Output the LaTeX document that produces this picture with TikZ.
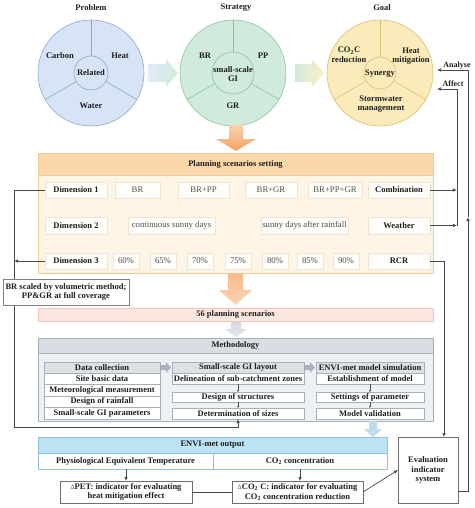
\documentclass[tikz,border=0pt]{standalone}
\usepackage{fontspec}
\setmainfont{Liberation Serif}
\usetikzlibrary{arrows.meta}
\definecolor{probfill}{HTML}{D6E4F6}
\definecolor{probdraw}{HTML}{8DA8CC}
\definecolor{stratfill}{HTML}{D0EADB}
\definecolor{stratdraw}{HTML}{8EC3A2}
\definecolor{goalfill}{HTML}{FCEBBA}
\definecolor{goaldraw}{HTML}{D8BD78}
\definecolor{planhead}{HTML}{FBD7AA}
\definecolor{planbody}{HTML}{FEF5E6}
\definecolor{planline}{HTML}{F1CB98}
\definecolor{cellfill}{HTML}{FFFDF9}
\definecolor{cellline}{HTML}{F1E3CF}
\definecolor{scenfill}{HTML}{FCE7E0}
\definecolor{scenline}{HTML}{F1C6B8}
\definecolor{methead}{HTML}{D8DEE4}
\definecolor{metbody}{HTML}{EEF1F4}
\definecolor{metline}{HTML}{A7B0B9}
\definecolor{colhead}{HTML}{DDE1E5}
\definecolor{envihead}{HTML}{BCE3F4}
\definecolor{enviline}{HTML}{8FC3DA}
\definecolor{conn}{HTML}{4A4A4A}
\definecolor{txt}{HTML}{1E1E1E}
\definecolor{celltxt}{HTML}{505050}
\definecolor{orangeA}{HTML}{F9D2AC}
\definecolor{orangeB}{HTML}{F5A363}
\definecolor{orangeC}{HTML}{F8BB88}
\definecolor{orangeD}{HTML}{FAD3B6}
\definecolor{grayarr}{HTML}{D2D9E0}
\definecolor{midgray}{HTML}{A9B1BA}
\definecolor{bluearr}{HTML}{BEDDEB}

\newcommand{\bx}[7]{\node[#6, minimum width={(#4-#2)*1pt}, minimum height={(#5-#3)*1pt}] (#1) at ({(#2+#4)/2},{(#3+#5)/2}) {#7};}
\newcommand{\dlt}{{\fontsize{6.5}{6}\selectfont\mdseries\color{celltxt}Δ}}

\begin{document}
\begin{tikzpicture}[x=1pt,y=-1pt,
  every node/.style={inner sep=0pt, outer sep=0pt, text=txt, font=\fontsize{8.5}{9.6}\selectfont\bfseries, align=center},
  box/.style={rectangle, draw, line width=0.5pt},
  cell/.style={box, draw=cellline, fill=cellfill, font=\fontsize{8.7}{9.6}\selectfont, text=celltxt},
  dimcell/.style={box, draw=cellline, fill=cellfill},
  mrow/.style={box, draw=metline, fill=white},
  mhead/.style={box, draw=metline, fill=colhead},
  bigc/.style={circle, minimum size=106pt, line width=0.6pt},
  conn/.style={draw=conn, line width=0.7pt},
  arr/.style={conn, -{Latex[length=4pt,width=3.5pt]}},
  tinyarr/.style={draw=conn, line width=0.4pt, -{Latex[length=2pt,width=2pt]}},
  whitebox/.style={box, draw=conn!80, fill=white}
]
\useasboundingbox (0,0) rectangle (474,508);

% titles
\node (tprob) at (91,8) {Problem};
\node (tstrat) at (236,8) {Strategy};
\node (tgoal) at (382,8) {Goal};

% problem circle
\node[bigc, fill=probfill, draw=probdraw] (prob) at (91,73) {};
\draw[probdraw, line width=0.6pt] (prob.center) circle (17);
\foreach \a in {-90,30,150} \draw[probdraw, line width=0.6pt] (prob.center) ++(\a:17) -- ++(\a:36);
\node (carbon) at (60,56) {Carbon};
\node (heat) at (120,56) {Heat};
\node (related) at (91,73) {Related};
\node (water) at (91,106) {Water};

% strategy circle
\node[bigc, fill=stratfill, draw=stratdraw] (strat) at (233,73) {};
\draw[stratdraw, line width=0.6pt] (strat.center) circle (21);
\foreach \a in {-90,30,150} \draw[stratdraw, line width=0.6pt] (strat.center) ++(\a:21) -- ++(\a:32);
\node (sbr) at (205,56) {BR};
\node (spp) at (263,56) {PP};
\node (sgi) at (233,74) {small-scale\\GI};
\node (sgr) at (233,106) {GR};

% goal circle
\node[bigc, fill=goalfill, draw=goaldraw] (goal) at (380,73) {};
\draw[goaldraw, line width=0.6pt] (goal.center) circle (16);
\foreach \a in {-90,30,150} \draw[goaldraw, line width=0.6pt] (goal.center) ++(\a:16) -- ++(\a:37);
\node (gco) at (349,55) {CO\textsubscript{2}C\\reduction};
\node (gheat) at (411,56) {Heat\\mitigation};
\node (gsyn) at (380,74) {Synergy};
\node (gstorm) at (381,104) {Stormwater\\management};

% block arrows between circles
\path[left color=probfill!70!white, right color=stratfill] (148,64) -- (166,64) -- (166,59) -- (178,73) -- (166,87) -- (166,82) -- (148,82) -- cycle;
\path[left color=stratfill, right color=goalfill!80!white] (295,64) -- (312,64) -- (312,59) -- (324,73) -- (312,87) -- (312,82) -- (295,82) -- cycle;
% orange arrow to planning
\path[top color=orangeA, bottom color=orangeB] (229,125) -- (243,125) -- (243,139) -- (256,139) -- (236,151) -- (216,139) -- (229,139) -- cycle;

% planning block
\bx{plan}{38}{153}{433}{273}{box, draw=planline, fill=planbody}{}
\bx{planh}{38}{153}{433}{175}{box, draw=planline, fill=planhead}{Planning scenarios setting}
\bx{dimA}{45}{182}{107}{198}{dimcell}{Dimension 1}
\bx{br}{115}{182}{160}{198}{cell}{BR}
\bx{brpp}{178}{182}{229}{198}{cell}{BR+PP}
\bx{brgr}{245}{182}{297}{198}{cell}{BR+GR}
\bx{brppgr}{308}{182}{362}{198}{cell}{BR+PP+GR}
\bx{comb}{368}{182}{430}{198}{dimcell}{Combination}
\bx{dimB}{45}{217}{107}{234}{dimcell}{Dimension 2}
\bx{cont}{128}{217}{215}{234}{cell}{continuous sunny days}
\bx{after}{261}{217}{348}{234}{cell}{sunny days after rainfall}
\bx{weather}{368}{217}{430}{234}{dimcell}{Weather}
\bx{dimC}{45}{253}{107}{269}{dimcell}{Dimension 3}
\bx{pA}{113}{253}{139}{269}{cell}{60\%}
\bx{pB}{150}{253}{176}{269}{cell}{65\%}
\bx{pC}{187}{253}{213}{269}{cell}{70\%}
\bx{pD}{225}{253}{251}{269}{cell}{75\%}
\bx{pE}{262}{253}{288}{269}{cell}{80\%}
\bx{pF}{297}{253}{323}{269}{cell}{85\%}
\bx{pG}{333}{253}{359}{269}{cell}{90\%}
\bx{rcr}{368}{253}{430}{269}{dimcell}{RCR}

% orange arrow to scenarios
\path[top color=orangeC, bottom color=orangeD] (228,273) -- (243,273) -- (243,290) -- (252,290) -- (235.5,305) -- (219,290) -- (228,290) -- cycle;
\bx{scen}{38}{308}{433}{321}{box, draw=scenline, fill=scenfill}{56 planning scenarios}
\path[top color=grayarr, bottom color=grayarr!60!white] (231,322) -- (241,322) -- (241,329) -- (247,329) -- (236,337) -- (225,329) -- (231,329) -- cycle;

% methodology
\bx{met}{38}{338}{433}{421}{box, draw=metline, fill=metbody}{}
\bx{meth}{38}{338}{433}{353}{box, draw=metline, fill=methead}{Methodology}
\bx{dc}{44}{362}{160}{373}{mhead}{Data collection}
\bx{sbd}{44}{373}{160}{384}{mrow}{Site basic data}
\bx{mm}{44}{384}{160}{396}{mrow}{Meteorological measurement}
\bx{dr}{44}{396}{160}{407}{mrow}{Design of rainfall}
\bx{gip}{44}{407}{160}{419}{mrow}{Small-scale GI parameters}
\bx{gil}{172}{362}{304}{373}{mhead}{Small-scale GI layout}
\bx{del}{172}{373}{304}{384}{mrow}{Delineation of sub-catchment zones}
\bx{dos}{172}{392}{304}{402}{mrow}{Design of structures}
\bx{det}{172}{408}{304}{419}{mrow}{Determination of sizes}
\bx{ems}{316}{362}{424}{373}{mhead}{ENVI-met model simulation}
\bx{est}{316}{373}{424}{384}{mrow}{Establishment of model}
\bx{sop}{316}{392}{424}{402}{mrow}{Settings of parameter}
\bx{mv}{316}{408}{424}{419}{mrow}{Model validation}
\path[fill=midgray] (161,365) -- (166,365) -- (166,362) -- (171,367.5) -- (166,373) -- (166,370) -- (161,370) -- cycle;
\path[fill=midgray] (305,365) -- (310,365) -- (310,362) -- (315,367.5) -- (310,373) -- (310,370) -- (305,370) -- cycle;
\draw[tinyarr] (del.south) -- (dos.north);
\draw[tinyarr] (dos.south) -- (det.north);
\draw[tinyarr] (est.south) -- (sop.north);
\draw[tinyarr] (sop.south) -- (mv.north);

% blue arrow to output
\path[fill=bluearr] (369,421) -- (377,421) -- (377,429) -- (382,429) -- (373,437) -- (364,429) -- (369,429) -- cycle;

% ENVI-met output
\bx{envi}{38}{437}{387}{469}{box, draw=enviline, fill=white}{}
\bx{envih}{38}{437}{387}{453}{box, draw=enviline, fill=envihead}{ENVI-met output}
\bx{pet}{38}{453}{213}{469}{box, draw=enviline, fill=white}{Physiological Equivalent Temperature}
\bx{co}{213}{453}{387}{469}{box, draw=enviline, fill=white}{CO\textsubscript{2}\ concentration}
\bx{petbox}{60}{481}{192}{503}{whitebox}{\dlt PET: indicator for evaluating\\heat mitigation effect}
\bx{cobox}{232}{481}{363}{503}{whitebox}{\dlt CO\textsubscript{2} C: indicator for evaluating\\CO\textsubscript{2} concentration reduction}
\bx{eval}{398}{437}{458}{503}{whitebox}{Evaluation\\indicator\\system}

\draw[arr] (pet.south -| petbox.north) -- (petbox.north);
\draw[arr] (co.south) -- (co.south |- cobox.north);
\draw[conn] (petbox.east) -- (cobox.west);
\draw[arr] (cobox.east) -- (eval.west);

% right connectors
\coordinate (affR) at (457,89);
\coordinate (affL) at (437,89);
\coordinate (anaR) at (468,70);
\coordinate (anaL) at (437,70);
\coordinate (upmid) at (468,217);
\draw[arr] (comb.east) -- (comb.east -| affR);
\draw[arr] (weather.east) -- (weather.east -| affR);
\draw[arr] (weather.east -| affR) -- (affR) -- (affL);
\draw[arr] ([yshift=-21pt]eval.east) -| (upmid);
\draw[arr] (upmid) -- (anaR) -- (anaL);
\draw[arr] (rcr.east) -| ([xshift=16pt]eval.north);
\node[anchor=base, font=\fontsize{8}{9}\selectfont\bfseries] (affect) at (453,86.5) {Affect};
\node[anchor=base, font=\fontsize{8}{9}\selectfont\bfseries] (analyse) at (457,67.5) {Analyse};

% left connectors
\coordinate (lb) at (14,427);
\draw[arr] (dimA.west) -- (dimA.west -| lb) -- (lb) -| (det.south);
\draw[arr] (dimC.west) -- (dimC.west -| lb);
\bx{brnote}{3}{279}{129}{305}{box, draw=conn!70, fill=white}{BR scaled by volumetric method;\\PP\&GR at full coverage}
\end{tikzpicture}
\end{document}
